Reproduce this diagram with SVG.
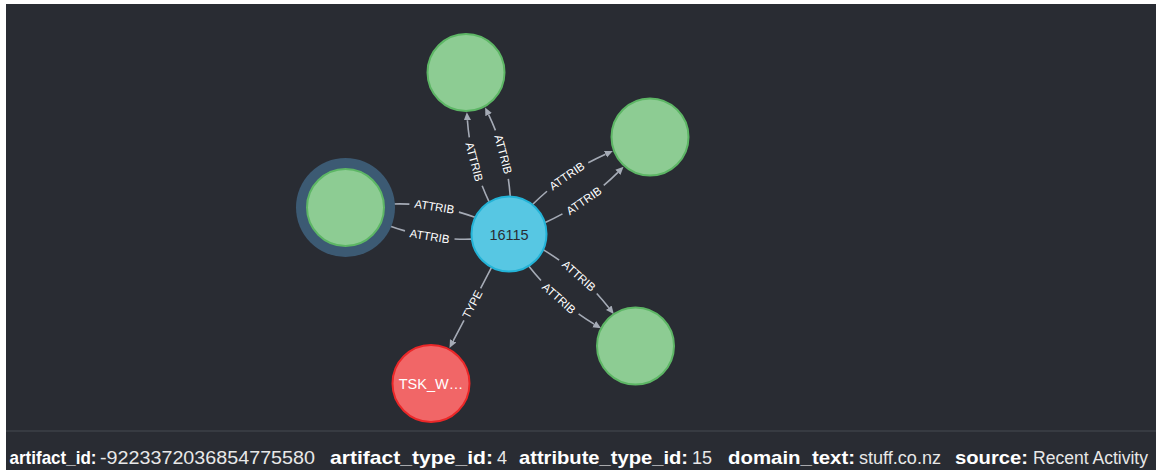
<svg xmlns="http://www.w3.org/2000/svg" width="1156" height="470" viewBox="0 0 1156 470">
  <style>
    .bg { fill: #292c33; }
    .rel { fill: none; stroke: #a5abb6; stroke-width: 1.6; }
    .rel-label { font-family: "Liberation Sans", Arial, sans-serif; font-size: 11.5px; fill: #ffffff; text-anchor: middle; dominant-baseline: central; }
    .attr { fill: #8dcc93; stroke: #5db665; stroke-width: 2; }
    .item { fill: #57c7e3; stroke: #23b3d7; stroke-width: 2; }
    .type { fill: #f16667; stroke: #eb2728; stroke-width: 2; }
    .halo { fill: #3c5a73; }
    .caption { font-family: "Liberation Sans", Arial, sans-serif; font-size: 14.5px; text-anchor: middle; dominant-baseline: central; }
    .props { font-family: "Liberation Sans", Arial, sans-serif; font-size: 18px; }
    .key { font-weight: bold; font-size: 19px; fill: #ffffff; }
    .val { fill: #e8e8e8; }
  </style>
  <defs>
    <marker id="arrow" markerUnits="userSpaceOnUse" viewBox="0 0 8 8" refX="0" refY="4" markerWidth="8" markerHeight="8" orient="auto">
      <path d="M0,0.4 L8,4 L0,7.6 Z" fill="#a5abb6"/>
    </marker>
  </defs>

  <rect x="0" y="0" width="1156" height="470" fill="#ffffff"/>
  <rect class="bg" x="6" y="4" width="1150" height="466"/>
  <line x1="6" y1="431" x2="1156" y2="431" stroke="#3d4049" stroke-width="1.5"/>

  <g id="connectors">
    <!-- 16115 -> top attribute node -->
    <path class="rel" d="M489,201.6 Q470.5,163 467.4,120.2" pathLength="100" stroke-dasharray="20.3 59.4 100" marker-end="url(#arrow)"/>
    <text class="rel-label" transform="translate(474.3,161.9) rotate(75.1)">ATTRIB</text>
    <path class="rel" d="M510.2,196 Q507.1,153.2 488.6,114.6" pathLength="100" stroke-dasharray="20.3 59.4 100" marker-end="url(#arrow)"/>
    <text class="rel-label" transform="translate(503.3,154.3) rotate(75.1)">ATTRIB</text>

    <!-- 16115 -> upper right attribute node -->
    <path class="rel" d="M532.8,204.3 Q564.7,172.7 605.5,154.2" pathLength="100" stroke-dasharray="21.7 56.6 100" marker-end="url(#arrow)"/>
    <text class="rel-label" transform="translate(566.9,176) rotate(-34.5)">ATTRIB</text>
    <path class="rel" d="M545.2,222.5 Q586.1,204.1 617.9,172.4" pathLength="100" stroke-dasharray="21.7 56.6 100" marker-end="url(#arrow)"/>
    <text class="rel-label" transform="translate(583.9,200.8) rotate(-34.5)">ATTRIB</text>

    <!-- 16115 -> selected attribute node -->
    <path class="rel" d="M474.9,217.3 Q435.1,202.7 392.6,204" pathLength="100" stroke-dasharray="20 60 100" marker-end="url(#arrow)"/>
    <text class="rel-label" transform="translate(434.4,206.7) rotate(9.2)">ATTRIB</text>
    <path class="rel" d="M471.3,239.1 Q428.9,240.3 389,225.7" pathLength="100" stroke-dasharray="20 60 100" marker-end="url(#arrow)"/>
    <text class="rel-label" transform="translate(429.6,236.3) rotate(9.2)">ATTRIB</text>

    <!-- 16115 -> lower right attribute node -->
    <path class="rel" d="M543.5,249.9 Q581.5,272.8 608.8,307.7" pathLength="100" stroke-dasharray="21.3 57.4 100" marker-end="url(#arrow)"/>
    <text class="rel-label" transform="translate(578.8,275.8) rotate(41.5)">ATTRIB</text>
    <path class="rel" d="M528.9,266.3 Q556.3,301.2 594.2,324.1" pathLength="100" stroke-dasharray="21.3 57.4 100" marker-end="url(#arrow)"/>
    <text class="rel-label" transform="translate(558.9,298.2) rotate(41.5)">ATTRIB</text>

    <!-- 16115 -> artifact type -->
    <path class="rel" d="M491.4,267.7 L453.2,340.9" pathLength="100" stroke-dasharray="28.2 43.6 100" marker-end="url(#arrow)"/>
    <text class="rel-label" transform="translate(472.3,304.3) rotate(-62.5)">TYPE</text>
  </g>

  <g id="node-attr-top">
    <circle class="attr" cx="466" cy="72.5" r="38.5"/>
  </g>
  <g id="node-attr-right">
    <circle class="attr" cx="650" cy="137" r="38.5"/>
  </g>
  <g id="node-attr-left">
    <circle class="halo" cx="345.5" cy="207.5" r="49.5"/>
    <circle class="attr" cx="345.5" cy="207.5" r="38.5"/>
  </g>
  <g id="node-attr-bottom">
    <circle class="attr" cx="635.5" cy="346" r="38.5"/>
  </g>
  <g id="node-16115">
    <circle class="item" cx="509" cy="234" r="37.5"/>
    <text class="caption" x="509" y="235" fill="#2a2c34">16115</text>
  </g>
  <g id="node-type">
    <circle class="type" cx="431" cy="383.5" r="38.5"/>
    <text class="caption" x="431" y="384" fill="#ffffff" font-size="15.5">TSK_W…</text>
  </g>

  <g id="properties" class="props">
    <text y="464">
      <tspan class="key" x="9.5" textLength="87" lengthAdjust="spacingAndGlyphs">artifact_id:</tspan><tspan class="val" x="100" textLength="215" lengthAdjust="spacingAndGlyphs">-9223372036854775580</tspan><tspan class="key" x="330" textLength="163" lengthAdjust="spacingAndGlyphs">artifact_type_id:</tspan><tspan class="val" x="497">4</tspan><tspan class="key" x="519" textLength="169" lengthAdjust="spacingAndGlyphs">attribute_type_id:</tspan><tspan class="val" x="692">15</tspan><tspan class="key" x="728" textLength="127" lengthAdjust="spacingAndGlyphs">domain_text:</tspan><tspan class="val" x="859" textLength="82" lengthAdjust="spacingAndGlyphs">stuff.co.nz</tspan><tspan class="key" x="955" textLength="73" lengthAdjust="spacingAndGlyphs">source:</tspan><tspan class="val" x="1033" textLength="115" lengthAdjust="spacingAndGlyphs">Recent Activity</tspan>
    </text>
  </g>
</svg>
